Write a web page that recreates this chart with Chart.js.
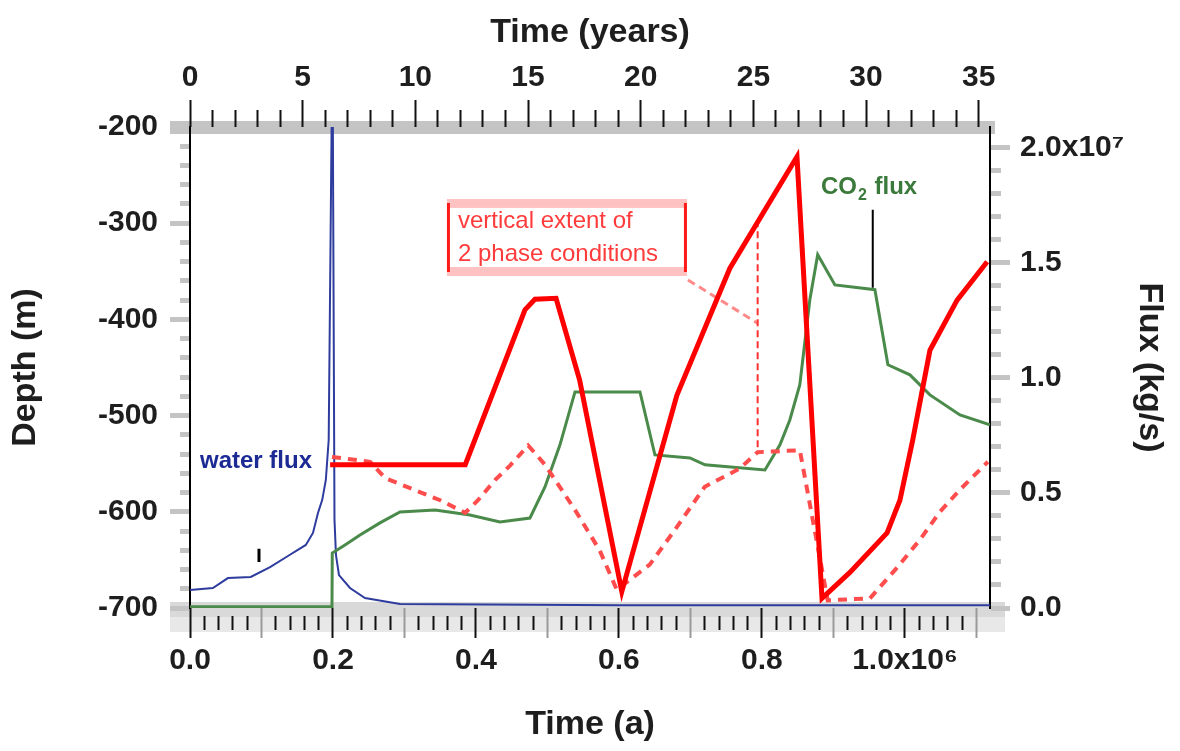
<!DOCTYPE html>
<html>
<head>
<meta charset="utf-8">
<title>Two-phase zone, water and CO2 flux</title>
<script src="https://cdn.jsdelivr.net/npm/chart.js@4.4.1/dist/chart.umd.min.js"></script>
<style>
  html, body { margin: 0; padding: 0; background: #fff; }
  #wrap { width: 1180px; height: 751px; }
</style>
</head>
<body>
<div id="wrap"><canvas id="chart" width="1180" height="751"></canvas></div>
<script>
// ------------------------------------------------------------
//  Données (temps en 10^6 a, axe du bas)
// ------------------------------------------------------------

// toit de la zone diphasique (trait rouge plein), profondeur en m
const topTime  = [0.196, 0.385, 0.4685, 0.4825, 0.512, 0.545, 0.604, 0.681, 0.755, 0.849,
                  0.884, 0.923, 0.975, 0.993, 1.011, 1.035, 1.073, 1.115];
const topDepth = [-551, -551, -390, -379, -378, -463, -683, -479, -347, -231,
                  -690, -663, -622, -588, -525, -432, -380, -340];

// base de la zone diphasique (trait rouge tireté)
const baseTime  = [0.1986, 0.252, 0.273, 0.35, 0.385, 0.4028, 0.4266, 0.4476, 0.473, 0.4965,
                   0.5385, 0.573, 0.597, 0.643, 0.678, 0.72, 0.769, 0.794, 0.853, 0.892,
                   0.951, 0.989, 1.021, 1.049, 1.077, 1.116];
const baseDepth = [-543, -548, -565, -588, -601, -588, -567, -552, -531, -551,
                   -598, -640, -681, -655, -619, -574, -555, -538, -536, -692,
                   -690, -658, -629, -600, -577, -548];

// extension verticale marquée à t ≈ 0.79 Ma, et son trait de rappel
const extentTime  = [0.794, 0.794];
const extentDepth = [-297, -539];
const pointerTime  = [0.6965, 0.794];
const pointerDepth = [-359, -404];

// flux de CO2 (axe de droite)
const co2Time = [0, 0.1986, 0.199, 0.2168, 0.2378, 0.2657, 0.2937, 0.3427, 0.3916, 0.4336,
                 0.4755, 0.4965, 0.5175, 0.5385, 0.6294, 0.6503, 0.6993, 0.7203, 0.8042, 0.8252,
                 0.839, 0.853, 0.867, 0.878, 0.9021, 0.958, 0.9762, 1.007, 1.035, 1.077, 1.119];
const co2Flux = [0.005, 0.005, 0.239, 0.274, 0.317, 0.37, 0.417, 0.426, 0.404, 0.374,
                 0.391, 0.526, 0.709, 0.939, 0.939, 0.665, 0.652, 0.622, 0.6, 0.709,
                 0.817, 0.97, 1.339, 1.535, 1.404, 1.383, 1.057, 1.013, 0.926, 0.839, 0.796];
const co2LeaderTime = [0.955, 0.955];
const co2LeaderFlux = [1.73, 1.391];

// flux d'eau (axe de droite) — le pic sort du cadre en haut
const waterTime = [0, 0.032, 0.053, 0.085, 0.112, 0.137, 0.162, 0.172, 0.179, 0.185,
                   0.19, 0.194, 0.1993, 0.2021, 0.2042, 0.2084, 0.2238, 0.2448, 0.2937, 0.6, 1.119];
const waterFlux = [0.078, 0.087, 0.13, 0.135, 0.178, 0.226, 0.274, 0.326, 0.413, 0.47,
                   0.557, 0.73, 2.5, 0.383, 0.23, 0.143, 0.087, 0.043, 0.017, 0.012, 0.012];
const waterLeaderTime = [0.0965, 0.0965];
const waterLeaderFlux = [0.257, 0.2];

// graduations
const bottomTicks = { max: 1.119, step: 0.02, every: 0.2, half: 0.1 };
const topTicks    = { max: 35.5, step: 1, every: 5 };
const depthTicks  = { min: -700, max: -200, step: 20, every: 100 };
const fluxTicks   = { max: 2.09, step: 0.1, every: 0.5 };

// ------------------------------------------------------------

const FONT = "'Liberation Sans', Arial, sans-serif";
const INK = "#1e1e1e";

const pts = (xs, ys) => xs.map((x, i) => ({ x, y: ys[i] }));
const isMult = (v, m) => Math.abs(v / m - Math.round(v / m)) < 1e-6;

function makeTicks(from, to, step) {
  const out = [];
  const n = Math.round((to - from) / step);
  for (let k = 0; k <= n; k++) out.push({ value: +(from + k * step).toFixed(6) });
  return out;
}

const tickFont = { family: FONT, size: 30, weight: "bold" };
const titleFont = { family: FONT, size: 34, weight: "bold" };

// Bandes grises des axes haut / bas, puis encadré et étiquettes
const decor = {
  id: "decor",
  beforeDraw(chart) {
    const { ctx, chartArea: a } = chart;
    ctx.save();
    ctx.fillStyle = "#c4c4c4";
    ctx.fillRect(a.left - 20, a.top - 6, a.right - a.left + 25, 13);
    ctx.fillStyle = "#d9d9d9";
    ctx.fillRect(a.left - 20, a.bottom - 6, a.right - a.left + 35, 15);
    ctx.fillStyle = "#e8e8e8";
    ctx.fillRect(a.left - 20, a.bottom + 9, a.right - a.left + 35, 15);
    ctx.restore();
  },
  afterDatasetsDraw(chart) {
    const { ctx, scales } = chart;
    const X = scales.x, Y = scales.y, Y2 = scales.y2;
    ctx.save();

    // encadré « vertical extent of 2 phase conditions »
    const bx0 = X.getPixelForValue(0.3594), bx1 = X.getPixelForValue(0.6951);
    const by0 = Y.getPixelForValue(-280), by1 = Y.getPixelForValue(-349.7);
    ctx.fillStyle = "#fff";
    ctx.fillRect(bx0, by0 - 5, bx1 - bx0, by1 - by0 + 10);
    ctx.fillStyle = "#ffc2c2";
    ctx.fillRect(bx0, by0 - 5, bx1 - bx0, 9);
    ctx.fillRect(bx0, by1 - 4, bx1 - bx0, 9);
    ctx.fillStyle = "#ff1a1a";
    ctx.fillRect(bx0, by0 - 1, 3, by1 - by0 + 2);
    ctx.fillRect(bx1 - 3, by0 - 1, 3, by1 - by0 + 2);
    ctx.fillStyle = "#ff3b3b";
    ctx.font = `24px ${FONT}`;
    ctx.textBaseline = "middle";
    ctx.textAlign = "left";
    ctx.fillText("vertical extent of", bx0 + 11, by0 + 17);
    ctx.fillText("2 phase conditions", bx0 + 11, by0 + 50);

    // « water flux »
    ctx.fillStyle = "#1c2a94";
    ctx.font = `bold 24px ${FONT}`;
    ctx.fillText("water flux", X.getPixelForValue(0.014), Y2.getPixelForValue(0.635));

    // « CO2 flux » avec indice
    const cx = X.getPixelForValue(0.8825), cy = Y2.getPixelForValue(1.826);
    ctx.fillStyle = "#3b7a3b";
    ctx.font = `bold 24px ${FONT}`;
    ctx.fillText("CO", cx, cy);
    let w = ctx.measureText("CO").width;
    ctx.font = `bold 16px ${FONT}`;
    ctx.fillText("2", cx + w + 1, cy + 8);
    w += ctx.measureText("2").width + 2;
    ctx.font = `bold 24px ${FONT}`;
    ctx.fillText(" flux", cx + w, cy);
    ctx.restore();
  }
};

new Chart(document.getElementById("chart"), {
  type: "line",
  data: {
    datasets: [
      { label: "top of two-phase zone", data: pts(topTime, topDepth), xAxisID: "x", yAxisID: "y",
        borderColor: "#ff0000", borderWidth: 5 },
      { label: "base of two-phase zone", data: pts(baseTime, baseDepth), xAxisID: "x", yAxisID: "y",
        borderColor: "#ff4d4d", borderWidth: 4, borderDash: [9, 7] },
      { label: "vertical extent", data: pts(extentTime, extentDepth), xAxisID: "x", yAxisID: "y",
        borderColor: "#ff3030", borderWidth: 2, borderDash: [7, 4] },
      { label: "extent leader", data: pts(pointerTime, pointerDepth), xAxisID: "x", yAxisID: "y",
        borderColor: "#ff8a8a", borderWidth: 3, borderDash: [8, 5] },
      { label: "CO2 flux", data: pts(co2Time, co2Flux), xAxisID: "x", yAxisID: "y2",
        borderColor: "#4a8a4a", borderWidth: 3 },
      { label: "CO2 leader", data: pts(co2LeaderTime, co2LeaderFlux), xAxisID: "x", yAxisID: "y2",
        borderColor: "#000", borderWidth: 2 },
      { label: "water flux", data: pts(waterTime, waterFlux), xAxisID: "x", yAxisID: "y2",
        borderColor: "#2e3c9e", borderWidth: 2 },
      { label: "water leader", data: pts(waterLeaderTime, waterLeaderFlux), xAxisID: "x", yAxisID: "y2",
        borderColor: "#000", borderWidth: 3 }
    ]
  },
  options: {
    responsive: false,
    animation: false,
    events: [],
    layout: { padding: 0, autoPadding: false },
    elements: { point: { radius: 0 }, line: { tension: 0 } },
    plugins: { legend: { display: false }, tooltip: { enabled: false } },
    scales: {
      x: {
        type: "linear", position: "bottom", min: 0, max: bottomTicks.max,
        afterBuildTicks: s => { s.ticks = makeTicks(0, 1.1, bottomTicks.step); },
        afterFit: s => { s.height = 143; },
        border: { display: false },
        grid: {
          drawOnChartArea: false, tickLength: 30, tickWidth: 2,
          tickColor: c => c.tick && !isMult(c.tick.value, bottomTicks.every) && isMult(c.tick.value, bottomTicks.half) ? "#9a9a9a" : "#111",
          tickBorderDash: c => c.tick && !isMult(c.tick.value, bottomTicks.half) ? [0, 8, 14, 30] : []
        },
        ticks: {
          autoSkip: false, maxRotation: 0, padding: 5, font: tickFont, color: INK,
          callback: v => {
            if (!isMult(v, bottomTicks.every)) return "";
            return Math.abs(v - 1) < 1e-6 ? "1.0x10\u2076" : v.toFixed(1);
          }
        },
        title: { display: true, text: "Time (a)", font: titleFont, color: INK, padding: { top: 0, bottom: 6 } }
      },
      x2: {
        type: "linear", position: "top", min: 0, max: topTicks.max,
        afterBuildTicks: s => { s.ticks = makeTicks(0, 35, topTicks.step); },
        afterFit: s => { s.height = 127; },
        border: { display: false },
        grid: {
          drawOnChartArea: false, tickLength: 27, tickWidth: 2, tickColor: "#111",
          tickBorderDash: c => c.tick && !isMult(c.tick.value, topTicks.every) ? [0, 10, 17, 0] : []
        },
        ticks: {
          autoSkip: false, maxRotation: 0, padding: 4, font: tickFont, color: INK,
          callback: v => isMult(v, topTicks.every) ? String(Math.round(v)) : ""
        },
        title: { display: true, text: "Time (years)", font: titleFont, color: INK, padding: { top: 12, bottom: 0 } }
      },
      y: {
        type: "linear", position: "left", min: depthTicks.min, max: depthTicks.max,
        afterBuildTicks: s => { s.ticks = makeTicks(depthTicks.min, depthTicks.max, depthTicks.step); },
        afterFit: s => { s.width = 190; },
        border: { display: true, color: "#000", width: 2 },
        grid: {
          drawOnChartArea: false, tickLength: 20, tickWidth: 5, tickColor: "#c4c4c4",
          tickBorderDash: c => c.tick && !isMult(c.tick.value, depthTicks.every) ? [0, 10, 10, 0] : []
        },
        ticks: {
          autoSkip: false, padding: 12, font: tickFont, color: INK,
          callback: v => isMult(v, depthTicks.every) ? String(Math.round(v)) : ""
        },
        title: { display: true, text: "Depth (m)", font: titleFont, color: INK, padding: { top: 5, bottom: 0 } }
      },
      y2: {
        type: "linear", position: "right", min: 0, max: fluxTicks.max,
        afterBuildTicks: s => { s.ticks = makeTicks(0, 2.0, fluxTicks.step); },
        afterFit: s => { s.width = 190; },
        border: { display: true, color: "#000", width: 2 },
        grid: {
          drawOnChartArea: false, tickLength: 20, tickWidth: 5, tickColor: "#c4c4c4",
          tickBorderDash: c => c.tick && !isMult(c.tick.value, fluxTicks.every) ? [10, 30] : []
        },
        ticks: {
          autoSkip: false, padding: 10, font: tickFont, color: INK,
          callback: v => {
            if (!isMult(v, fluxTicks.every)) return "";
            return Math.abs(v - 2) < 1e-6 ? "2.0x10\u2077" : v.toFixed(1);
          }
        },
        title: { display: true, text: "Flux (kg/s)", font: titleFont, color: INK, padding: { top: 10, bottom: 0 } }
      }
    }
  },
  plugins: [decor]
});
</script>
</body>
</html>
